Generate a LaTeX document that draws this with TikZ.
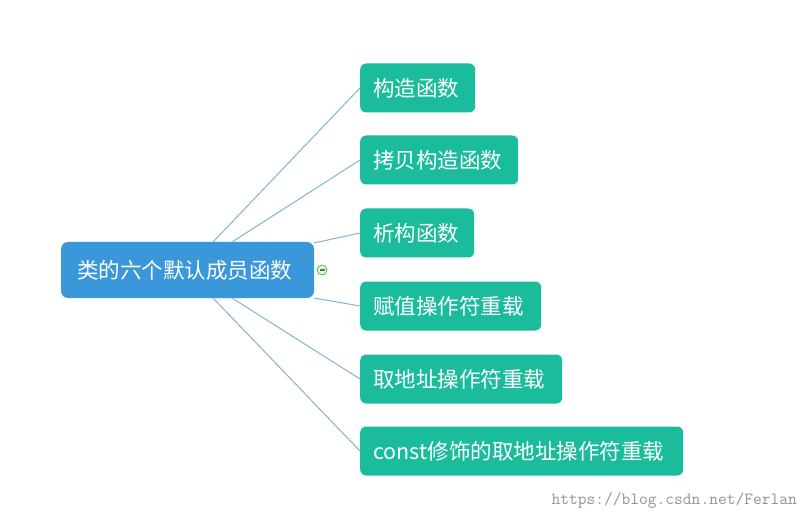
\documentclass[tikz,border=0pt]{standalone}
\usepackage{fontspec}
\newfontfamily\cjk{Noto Sans CJK SC}
\definecolor{rootc}{HTML}{3A97DA}
\definecolor{kidc}{HTML}{1ABC9C}
\definecolor{linec}{HTML}{7FB3D8}
\begin{document}
\begin{tikzpicture}[x=1pt,y=-1pt,
  kid/.style={fill=kidc,rounded corners=6pt,text=white,font=\cjk\fontsize{21.5}{23}\selectfont,anchor=west,minimum height=49pt,inner xsep=0pt},
  conn/.style={draw=linec,line width=1pt}]
\useasboundingbox (0,0) rectangle (808,521);
\node[fill=rootc,rounded corners=7pt,text=white,font=\cjk\fontsize{21.5}{23}\selectfont,text width=237pt,align=left,inner xsep=8pt,minimum height=56pt] (root) at (187.5,270) {\hspace*{8pt}类的六个默认成员函数};
\node[kid,text width=115pt] (k1) at (360,88) {\hspace*{13pt}构造函数};
\node[kid,text width=158pt] (k2) at (360,160) {\hspace*{13pt}拷贝构造函数};
\node[kid,text width=114pt] (k3) at (360,233) {\hspace*{13pt}析构函数};
\node[kid,text width=181pt] (k4) at (360,306) {\hspace*{13pt}赋值操作符重载};
\node[kid,text width=202pt] (k5) at (360,379) {\hspace*{13pt}取地址操作符重载};
\node[kid,text width=323pt] (k6) at (360,451) {\hspace*{13pt}const修饰的取地址操作符重载};
\coordinate (a1) at (213,242); \coordinate (a2) at (232,242);
\coordinate (a3) at (314,243); \coordinate (a4) at (314,298);
\coordinate (a5) at (232,298); \coordinate (a6) at (213,298);
\draw[conn] (a1) -- (k1.west); \draw[conn] (a2) -- (k2.west);
\draw[conn] (a3) -- (k3.west); \draw[conn] (a4) -- (k4.west);
\draw[conn] (a5) -- (k5.west); \draw[conn] (a6) -- (k6.west);
\node[circle,draw=green!60!black!70,fill=green!15,line width=0.8pt,minimum size=10pt,inner sep=0pt] (col) at (322,270) {};
\draw[line width=1.2pt,gray!80!black] ([xshift=-2.5pt]col.center) -- ([xshift=2.5pt]col.center);
\node[font=\ttfamily\fontsize{17}{18}\selectfont,text=gray!85,anchor=east,inner sep=0pt] (wm) at (797,501) {https://blog.csdn.net/Ferlan};
\end{tikzpicture}
\end{document}
